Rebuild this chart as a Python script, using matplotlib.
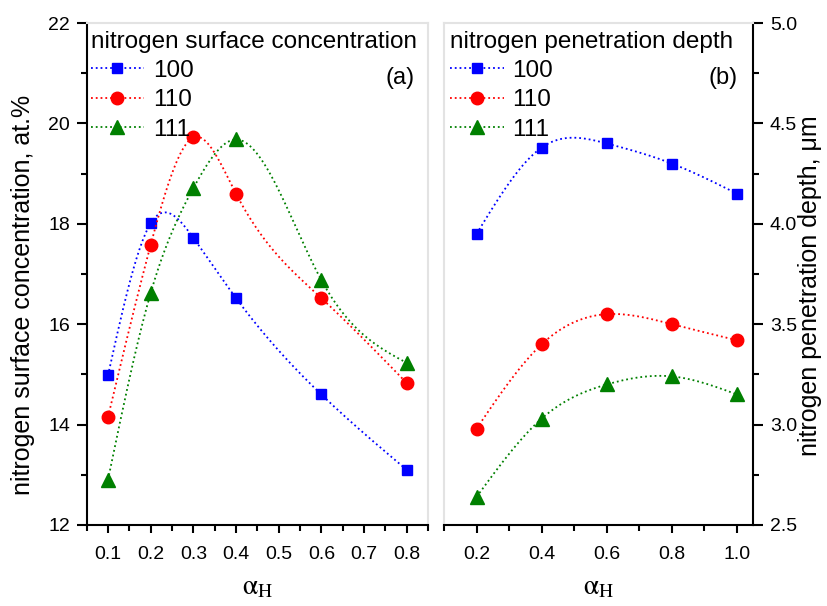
import numpy as np
import matplotlib
matplotlib.use("Agg")
import matplotlib.pyplot as plt
from matplotlib.ticker import MultipleLocator, FormatStrFormatter

plt.rcParams['font.family'] = ['Liberation Sans', 'DejaVu Sans']
plt.rcParams['mathtext.fontset'] = 'stix'

# panel (a): surface concentration, at.%
alpha_a = [0.1, 0.2, 0.3, 0.4, 0.6, 0.8]
conc_100 = [14.98, 18.01, 17.72, 16.52, 14.60, 13.10]
conc_110 = [14.15, 17.58, 19.72, 18.60, 16.52, 14.83]
conc_111 = [12.90, 16.62, 18.71, 19.68, 16.88, 15.23]

# panel (b): penetration depth, um
alpha_b = [0.2, 0.4, 0.6, 0.8, 1.0]
depth_100 = [3.95, 4.38, 4.40, 4.30, 4.15]
depth_110 = [2.98, 3.40, 3.55, 3.50, 3.42]
depth_111 = [2.64, 3.03, 3.20, 3.24, 3.15]

labels = ['100', '110', '111']
colors = ['#0000ff', '#ff0000', '#008000']
markers = ['s', 'o', '^']
msizes = [7.5, 9, 9.5]


def spline(x, y, n=200):
    # natural cubic spline for the smooth dotted guide lines
    x = np.asarray(x, float)
    y = np.asarray(y, float)
    k = len(x)
    h = np.diff(x)
    A = np.zeros((k, k))
    r = np.zeros(k)
    A[0, 0] = A[-1, -1] = 1
    for i in range(1, k - 1):
        A[i, i - 1] = h[i - 1]
        A[i, i] = 2 * (h[i - 1] + h[i])
        A[i, i + 1] = h[i]
        r[i] = 6 * ((y[i + 1] - y[i]) / h[i] - (y[i] - y[i - 1]) / h[i - 1])
    m = np.linalg.solve(A, r)
    xs = np.linspace(x[0], x[-1], n)
    idx = np.clip(np.searchsorted(x, xs) - 1, 0, k - 2)
    t0 = x[idx]
    t1 = x[idx + 1]
    hh = t1 - t0
    ys = (m[idx] * (t1 - xs) ** 3 / (6 * hh) + m[idx + 1] * (xs - t0) ** 3 / (6 * hh)
          + (y[idx] / hh - m[idx] * hh / 6) * (t1 - xs)
          + (y[idx + 1] / hh - m[idx + 1] * hh / 6) * (xs - t0))
    return xs, ys


fig = plt.figure(figsize=(8.27, 6.06), dpi=100)
ax1 = fig.add_axes([0.1048, 0.1337, 0.4127, 0.8283])
ax2 = fig.add_axes([0.5369, 0.1337, 0.3740, 0.8283])

light = '#e3e3e3'

for ax, xs, series in [(ax1, alpha_a, [conc_100, conc_110, conc_111]),
                       (ax2, alpha_b, [depth_100, depth_110, depth_111])]:
    for ys, lab, c, mk, ms in zip(series, labels, colors, markers, msizes):
        sx, sy = spline(xs, ys)
        ax.plot(sx, sy, ':', color=c, lw=1.3)
        ax.plot(xs, ys, linestyle='none', marker=mk, color=c, ms=ms)
        ax.plot([], [], ':', color=c, lw=1.3, marker=mk, ms=ms, label=lab)

xlab = r'$\mathrm{\alpha}_{\mathrm{H}}$'

# panel (a) axes
ax1.set_xlim(0.05, 0.85)
ax1.set_ylim(12, 22)
ax1.xaxis.set_major_locator(MultipleLocator(0.1))
ax1.xaxis.set_minor_locator(MultipleLocator(0.05))
ax1.yaxis.set_major_locator(MultipleLocator(2))
ax1.yaxis.set_minor_locator(MultipleLocator(1))
ax1.spines['top'].set_color(light)
ax1.spines['right'].set_color(light)
ax1.set_ylabel('nitrogen surface concentration, at.%', fontsize=18)
ax1.yaxis.set_label_coords(-0.151, 0.458)
ax1.set_xlabel(xlab, fontsize=20, labelpad=8)
ax1.text(0.96, 0.89, '(a)', transform=ax1.transAxes, ha='right', va='center', fontsize=17)

# panel (b) axes
ax2.set_xlim(0.1, 1.05)
ax2.set_ylim(2.5, 5.0)
ax2.xaxis.set_major_locator(MultipleLocator(0.2))
ax2.xaxis.set_minor_locator(MultipleLocator(0.1))
ax2.yaxis.set_major_locator(MultipleLocator(0.5))
ax2.yaxis.set_minor_locator(MultipleLocator(0.25))
ax2.yaxis.tick_right()
ax2.yaxis.set_label_position('right')
ax2.spines['top'].set_color(light)
ax2.spines['left'].set_color(light)
ax2.set_ylabel('nitrogen penetration depth, μm', fontsize=18)
ax2.yaxis.set_label_coords(1.145, 0.476)
ax2.set_xlabel(xlab, fontsize=20, labelpad=8)
ax2.text(0.95, 0.89, '(b)', transform=ax2.transAxes, ha='right', va='center', fontsize=17)
ax2.yaxis.set_major_formatter(FormatStrFormatter('%.1f'))
ax2.xaxis.set_major_formatter(FormatStrFormatter('%.1f'))

for ax in (ax1, ax2):
    for s in ('left', 'right', 'top', 'bottom'):
        ax.spines[s].set_linewidth(1.5)
    ax.tick_params(labelsize=14, width=1.5)
    ax.tick_params(axis='x', which='major', length=6, pad=9)
    ax.tick_params(axis='x', which='minor', length=4, width=1.5)
    ax.tick_params(axis='y', which='major', length=7, pad=5)
    ax.tick_params(axis='y', which='minor', length=4, width=1.5)

leg_kw = dict(loc='upper left', frameon=False, fontsize=17.5, title_fontsize=17.5,
              handlelength=2.2, borderpad=0.1, labelspacing=0.3,
              handletextpad=0.35, alignment='left')
ax1.legend(title='nitrogen surface concentration', bbox_to_anchor=(-0.031, 1.014), **leg_kw)
ax2.legend(title='nitrogen penetration depth', bbox_to_anchor=(-0.027, 1.014), **leg_kw)

fig.savefig('out.png', dpi=100)
